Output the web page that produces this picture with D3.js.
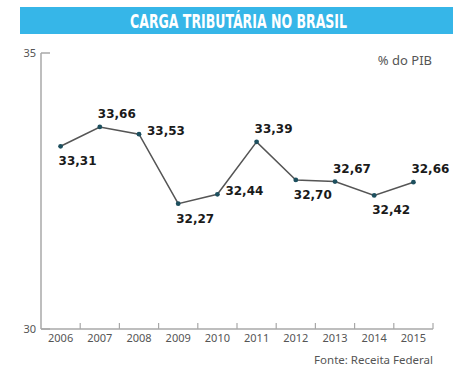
<!DOCTYPE html>
<html><head><meta charset="utf-8">
<script src="https://cdn.jsdelivr.net/npm/d3@7"></script>
<style>body{margin:0;background:#fff}svg{display:block}</style>
</head><body>
<script>
const years = ["2006","2007","2008","2009","2010","2011","2012","2013","2014","2015"];
const values = [33.31,33.66,33.53,32.27,32.44,33.39,32.70,32.67,32.42,32.66];
const valueLabels = ["33,31","33,66","33,53","32,27","32,44","33,39","32,70","32,67","32,42","32,66"];
const labelPos = ["below","above","right","below","right","above","below","above","below","above"];
const yTicks = [30,35];

const W=474,H=380;
const svg=d3.select("body").append("svg").attr("width",W).attr("height",H);

// title bar
svg.append("rect").attr("x",20).attr("y",7).attr("width",433).attr("height",27).attr("fill","#36b6e8");
svg.append("text").attr("x",238.5).attr("y",28).attr("text-anchor","middle")
  .attr("font-family","'Liberation Sans Narrow','DejaVu Sans Condensed',sans-serif")
  .attr("font-weight","bold").attr("font-size",20).attr("fill","#fff")
  .attr("textLength",217).attr("lengthAdjust","spacingAndGlyphs")
  .text("CARGA TRIBUTÁRIA NO BRASIL");

const x=d3.scaleBand().domain(years).range([41,433]);
const y=d3.scaleLinear().domain([30,35]).range([329,53]);
const axisCol="#a8a8a8", txtCol="#555";
const g=svg.append("g");

// y axis
g.append("line").attr("x1",41).attr("x2",41).attr("y1",y(35)).attr("y2",y(30)).attr("stroke",axisCol).attr("stroke-width",1.5);
yTicks.forEach(t=>{
  g.append("line").attr("x1",41).attr("x2",50).attr("y1",y(t)).attr("y2",y(t)).attr("stroke",axisCol).attr("stroke-width",1.5);
  g.append("text").attr("x",36).attr("y",y(t)+4).attr("text-anchor","end")
   .attr("font-family","'Noto Sans',sans-serif").attr("font-size",11).attr("fill",txtCol).text(t);
});
// x axis
g.append("line").attr("x1",41).attr("x2",433).attr("y1",329).attr("y2",329).attr("stroke",axisCol).attr("stroke-width",1.5);
years.forEach(d=>{
  const xe=x(d)+x.bandwidth();
  g.append("line").attr("x1",xe).attr("x2",xe).attr("y1",329).attr("y2",323).attr("stroke",axisCol).attr("stroke-width",1.2);
  g.append("text").attr("x",x(d)+x.bandwidth()/2).attr("y",342).attr("text-anchor","middle")
   .attr("font-family","'Noto Sans',sans-serif").attr("font-size",11).attr("fill",txtCol).text(d);
});

// line
const cx=(d,i)=>x(years[i])+x.bandwidth()/2;
svg.append("path").datum(values)
  .attr("d",d3.line().x((d,i)=>cx(d,i)).y(d=>y(d)))
  .attr("fill","none").attr("stroke","#555").attr("stroke-width",1.5);
svg.selectAll("circle.pt").data(values).join("circle")
  .attr("cx",(d,i)=>cx(d,i)).attr("cy",d=>y(d)).attr("r",2.4).attr("fill","#1d4f5e");

// labels
svg.selectAll("text.vl").data(values).join("text")
  .attr("x",(d,i)=>labelPos[i]==="right"? cx(d,i)+8 : cx(d,i)-2)
  .attr("y",(d,i)=>{
    const p=labelPos[i];
    if(p==="above") return y(d)-9;
    if(p==="below") return y(d)+19;
    return y(d)+1;
  })
  .attr("font-family","'DejaVu Sans',sans-serif").attr("font-weight","bold")
  .attr("font-size",12).attr("fill","#1a1a1a")
  .text((d,i)=>valueLabels[i]);

svg.append("text").attr("x",432).attr("y",65).attr("text-anchor","end")
  .attr("font-family","'Noto Sans',sans-serif").attr("font-size",13).attr("fill",txtCol).text("% do PIB");
svg.append("text").attr("x",433).attr("y",364).attr("text-anchor","end")
  .attr("font-family","'Noto Sans',sans-serif").attr("font-size",11.5).attr("fill",txtCol).text("Fonte: Receita Federal");
</script>
</body></html>
